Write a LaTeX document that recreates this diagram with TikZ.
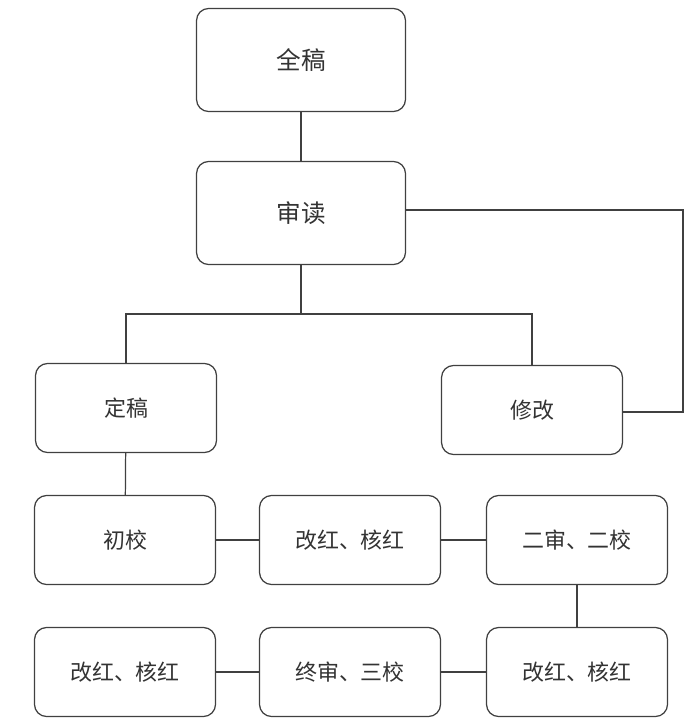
\documentclass[tikz,border=0pt]{standalone}
\usepackage{fontspec}
\newfontfamily\cjk{Noto Sans CJK SC}
\tikzset{
  stage/.style={draw=black!75, line width=0.7pt, rounded corners=0.24cm, fill=white,
    minimum width=3.62cm, minimum height=1.78cm, font=\cjk\fontsize{12.5}{14}\selectfont, text=black!80},
  bigstage/.style={stage, minimum width=4.18cm, minimum height=2.06cm, font=\cjk\fontsize{14}{16}\selectfont},
  link/.style={draw=black!75, line width=0.7pt}
}
\begin{document}
\begin{tikzpicture}[x=0.02cm, y=-0.02cm]

  % Frame
  \useasboundingbox (0,0) rectangle (697,727);

  % Top boxes
  \node[bigstage] (quangao) at (301,60) {全稿};
  \node[bigstage] (shendu) at (301,213) {审读};

  % Middle boxes
  \node[stage] (dinggao) at (126,408) {定稿};
  \node[stage] (xiugai) at (532,410) {修改};

  % Third row
  \node[stage] (chujiao) at (125,540) {初校};
  \node[stage] (gaihong) at (350,540) {改红、核红};
  \node[stage] (ershen) at (577,540) {二审、二校};

  % Bottom row
  \node[stage] (gaihongb) at (125,672) {改红、核红};
  \node[stage] (zhongshen) at (350,672) {终审、三校};
  \node[stage] (gaihongc) at (577,672) {改红、核红};

  % Branch point and loop corners
  \coordinate (fork) at (301,314);
  \coordinate (loopa) at (683,210);
  \coordinate (loopb) at (683,412);

  % Lines
  \draw[link] (quangao) -- (shendu);
  \draw[link] (shendu) -- (fork);
  \draw[link] (fork) -| (dinggao);
  \draw[link] (fork) -| (xiugai);
  \draw[link] (shendu.east |- loopa) -- (loopa) -- (loopb) -- (xiugai.east |- loopb);
  \draw[link] (dinggao) -- (chujiao);
  \draw[link] (chujiao) -- (gaihong);
  \draw[link] (gaihong) -- (ershen);
  \draw[link] (ershen) -- (gaihongc);
  \draw[link] (gaihongc) -- (zhongshen);
  \draw[link] (zhongshen) -- (gaihongb);
\end{tikzpicture}
\end{document}
